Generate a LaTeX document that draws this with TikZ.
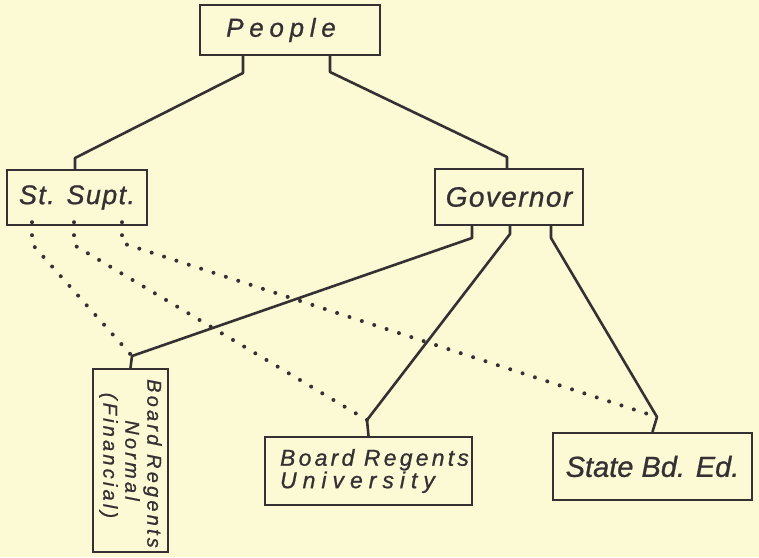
\documentclass[tikz,border=0pt]{standalone}
\usepackage{fontspec}
\setmainfont{Liberation Sans}[FakeBold=0.8]
\begin{document}
\definecolor{paper}{RGB}{252,250,212}
\definecolor{ink}{RGB}{52,48,52}
\begin{tikzpicture}[x=1pt,y=-1pt,
  box/.style={draw=ink, line width=2.4pt, inner sep=0pt, text=ink},
  conn/.style={draw=ink, line width=2.6pt, line join=round, line cap=round},
  dots/.style={draw=ink, line width=4pt, line cap=round, dash pattern=on 0pt off 13pt}]
\useasboundingbox[fill=paper] (0,0) rectangle (759,557);

% boxes
\node[box, minimum width=180, minimum height=50,
      font=\itshape\fontsize{26}{28}\selectfont\addfontfeature{LetterSpace=22}]
  (people) at (290,30) {\hspace*{-18pt}People};
\node[box, minimum width=140, minimum height=55,
      font=\itshape\fontsize{27}{30}\selectfont\addfontfeature{LetterSpace=5}]
  (stsupt) at (77,197.5) {St. Supt.};
\node[box, minimum width=148, minimum height=56,
      font=\itshape\fontsize{28}{30}\selectfont\addfontfeature{LetterSpace=5}]
  (gov) at (509,197) {Governor};
\node[box, minimum width=75, minimum height=183] (normal) at (130.5,460.5) {};
\node[rotate=-90, align=center, text=ink,
      font=\itshape\fontsize{20}{22}\selectfont\addfontfeature{LetterSpace=16}]
  (normaltext) at (normal.center)
  {\hspace*{6pt}Board Regents\\Normal\hspace*{36pt}\\(Financial)\hspace*{10pt}};
\node[box, minimum width=207, minimum height=68, align=left,
      font=\itshape\fontsize{23}{21}\selectfont]
  (univ) at (368.5,471)
  {\hspace*{12pt}{\addfontfeature{LetterSpace=14}Board Regents}\\\hspace*{12pt}{\addfontfeature{LetterSpace=26}University}};
\node[box, minimum width=199, minimum height=67,
      font=\itshape\fontsize{29}{32}\selectfont]
  (state) at (652.5,466.5) {State Bd. Ed.};

% bend points of the connectors
\coordinate (pL) at (243,73);
\coordinate (sL) at (75,158);
\coordinate (pR) at (330,72);
\coordinate (sR) at (507,157);
\coordinate (gA) at (472,238);
\coordinate (gB) at (510,234);
\coordinate (gC) at (551,238);
\coordinate (jN) at (132,356);
\coordinate (jU) at (367,420);
\coordinate (jS) at (657,417);
\coordinate (d1) at (32,244);
\coordinate (d2) at (74,245);
\coordinate (d3) at (122,243);

% solid lines of authority
\draw[conn] (people.south -| pL) -- (pL) -- (sL) -- (stsupt.north -| sL);
\draw[conn] (people.south -| pR) -- (pR) -- (sR) -- (gov.north -| sR);
\draw[conn] (gov.south -| gA) -- (gA) -- (jN) -- (normal.north);
\draw[conn] (gov.south -| gB) -- (gB) -- (jU) -- (univ.north);
\draw[conn] (gov.south -| gC) -- (gC) -- (jS) -- (state.north);

% dotted lines from the State Superintendent
\draw[dots] ([yshift=4pt]stsupt.south -| d1) -- (d1) -- (jN);
\draw[dots] ([yshift=4pt]stsupt.south -| d2) -- (d2) -- (jU);
\draw[dots] ([yshift=4pt]stsupt.south -| d3) -- (d3) -- (jS);
\end{tikzpicture}
\end{document}
